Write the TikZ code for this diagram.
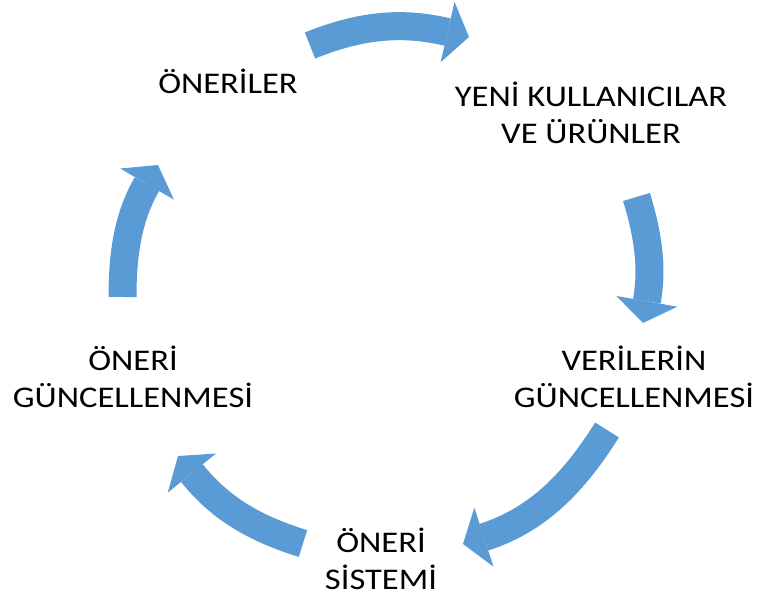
\documentclass[tikz,border=0pt]{standalone}
\usepackage{fontspec}
\setmainfont{Carlito}[FakeStretch=1.15]
\usetikzlibrary{arrows.meta}
\definecolor{cycleblue}{HTML}{5B9BD5}

\begin{document}
\begin{tikzpicture}[x=1pt, y=1pt,
    stage/.style={align=center, inner sep=0pt, text=black, font=\fontsize{30}{37}\selectfont},
    flow/.style={line width=28pt, color=cycleblue, -{Triangle[width=62pt, length=22pt, line width=0pt]}}
]
\useasboundingbox[fill=white] (0,0) rectangle (758,597);

% stages of the cycle
\node[stage] (oneriler) at (228, 516) {ÖNERİLER};
\node[stage] (yeni) at (591, 484.5) {YENİ KULLANICILAR\\VE ÜRÜNLER};
\node[stage] (veriler) at (634, 220) {VERİLERİN\\GÜNCELLENMESİ};
\node[stage] (sistem) at (381, 38.5) {ÖNERİ\\SİSTEMİ};
\node[stage] (guncel) at (133, 220) {ÖNERİ\\GÜNCELLENMESİ};

% arrow ends
\coordinate (t1) at (310, 551.5);
\coordinate (h1) at (469, 560);
\coordinate (t2) at (636.5, 400);
\coordinate (h2) at (643, 274);
\coordinate (t3) at (607, 167);
\coordinate (h3) at (463, 53);
\coordinate (t4) at (303, 53.5);
\coordinate (h4) at (178, 141);
\coordinate (t5) at (122.5, 300);
\coordinate (h5) at (158, 432);

\draw[flow] (t1) to[out=22, in=167] (h1);
\draw[flow] (t2) to[out=-73, in=80] (h2);
\draw[flow] (t3) to[out=-122, in=18] (h3);
\draw[flow] (t4) to[out=163, in=-51] (h4);
\draw[flow] (t5) to[out=90, in=240] (h5);

\end{tikzpicture}
\end{document}
